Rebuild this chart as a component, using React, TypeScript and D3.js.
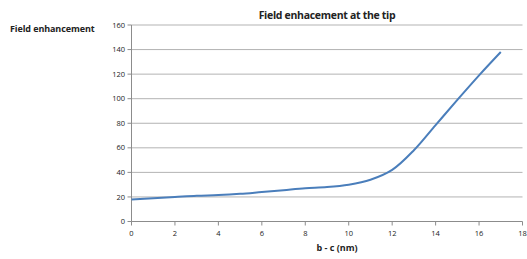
import React from 'react'
import * as d3 from 'd3'

const xValues = [0, 1, 2, 3, 4, 5, 6, 7, 8, 9, 10, 11, 12, 13, 14, 15, 16, 17]
const enhancement = [18, 19, 20, 21, 21.5, 22.5, 24, 25.5, 27, 28, 30, 34, 42, 58, 78.5, 99, 119, 138]
const xTicks = [0, 2, 4, 6, 8, 10, 12, 14, 16, 18]
const yTicks = [0, 20, 40, 60, 80, 100, 120, 140, 160]

export default function App() {
  const width = 527
  const height = 259
  const left = 131.5
  const right = 522.5
  const top = 25
  const bottom = 221.5

  const x = d3.scaleLinear().domain([0, 18]).range([left, right])
  const y = d3.scaleLinear().domain([0, 160]).range([bottom, top])

  const line = d3.line<number>()
    .x((d, i) => x(xValues[i]))
    .y(d => y(d))
    .curve(d3.curveCatmullRom.alpha(0.5))

  const font = 'Open Sans, Liberation Sans, sans-serif'

  return (
    <svg width={width} height={height} style={{position: 'absolute', left: 0, top: 0}}>
      <rect width={width} height={height} fill='#fff' />
      {yTicks.map(t => (
        <g key={'y' + t}>
          {t > 0 && <line x1={left} x2={right} y1={y(t)} y2={y(t)} stroke='#b3b3b3' strokeWidth={1} />}
          <line x1={left - 4} x2={left} y1={y(t)} y2={y(t)} stroke='#8c8c8c' />
          <text x={125} y={y(t)} dy='0.35em' textAnchor='end' fontSize={7.5} fontFamily={font} fill='#222'>{t}</text>
        </g>
      ))}
      <line x1={left} x2={left} y1={top} y2={bottom} stroke='#8c8c8c' />
      <line x1={left} x2={right} y1={bottom} y2={bottom} stroke='#8c8c8c' />
      {xTicks.map(t => (
        <g key={'x' + t}>
          <line x1={x(t)} x2={x(t)} y1={bottom} y2={bottom + 4} stroke='#8c8c8c' />
          <text x={x(t)} y={233} dy='0.35em' textAnchor='middle' fontSize={7.5} fontFamily={font} fill='#222'>{t}</text>
        </g>
      ))}
      <path d={line(enhancement) || ''} fill='none' stroke='#4a7ebb' strokeWidth={2} />
      <text x={327} y={15} dy='0.35em' textAnchor='middle' fontSize={10.5} fontWeight='bold' fontFamily={font} fill='#222' letterSpacing={-0.3}>Field enhacement at the tip</text>
      <text x={10} y={29} dy='0.35em' fontSize={9} fontWeight='bold' fontFamily={font} fill='#222' letterSpacing={-0.1}>Field enhancement</text>
      <text x={337} y={248} dy='0.35em' textAnchor='middle' fontSize={9} fontWeight='bold' fontFamily={font} fill='#222'>b - c (nm)</text>
    </svg>
  )
}
